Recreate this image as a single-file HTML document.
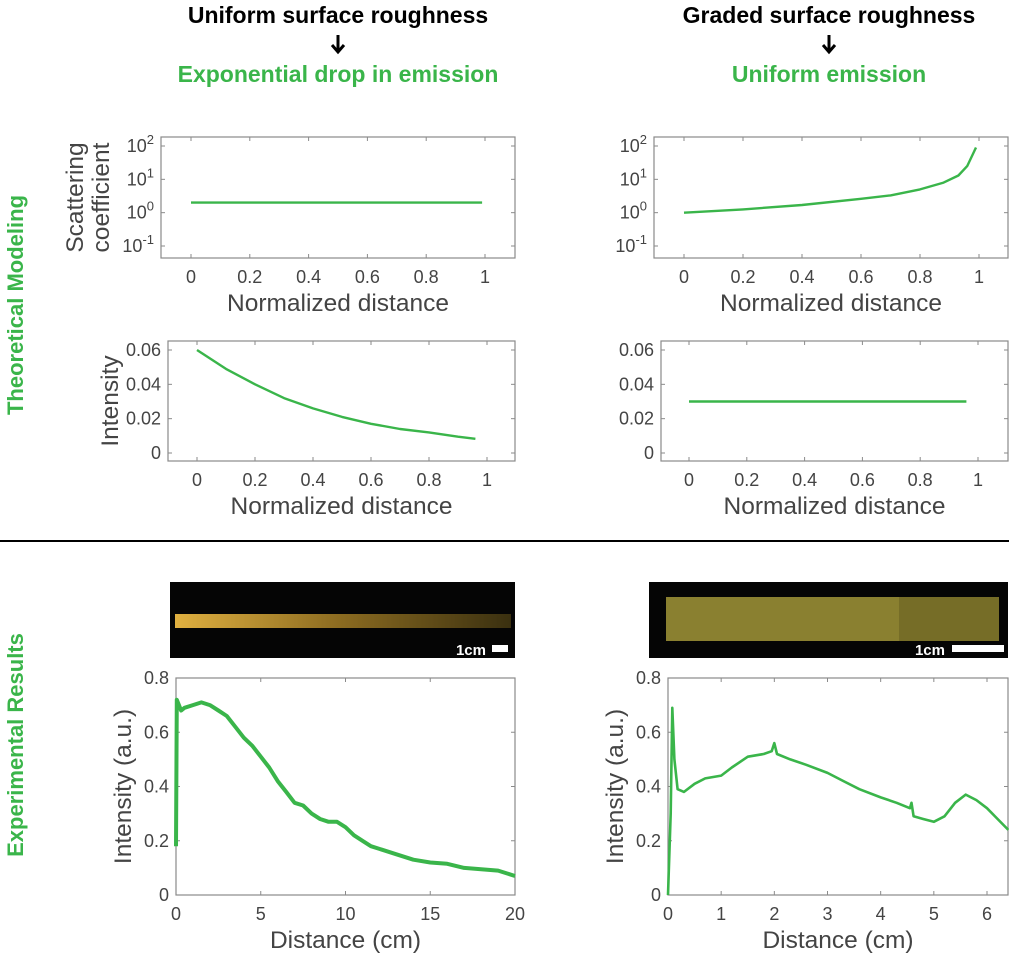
<!DOCTYPE html>
<html><head><meta charset="utf-8"><style>
html,body{margin:0;padding:0;background:#fff;}
body{width:1009px;height:959px;overflow:hidden;position:relative;font-family:"Liberation Sans",sans-serif;}
</style></head><body>
<svg id="fig" width="1009" height="959" xmlns="http://www.w3.org/2000/svg" font-family="Liberation Sans, sans-serif">
<g text-anchor="middle" font-weight="bold" font-size="23">
<text x="338" y="23" fill="#000">Uniform surface roughness</text>
<text x="338" y="82" fill="#3ab54a">Exponential drop in emission</text>
</g>
<path d="M338,35 V51 M332,45 L338,52 L344,45" stroke="#000" stroke-width="3" fill="none"/>
<g text-anchor="middle" font-weight="bold" font-size="23">
<text x="829" y="23" fill="#000">Graded surface roughness</text>
<text x="829" y="82" fill="#3ab54a">Uniform emission</text>
</g>
<path d="M829,35 V51 M823,45 L829,52 L835,45" stroke="#000" stroke-width="3" fill="none"/>
<text transform="translate(23,305) rotate(-90)" text-anchor="middle" font-weight="bold" font-size="22" fill="#3ab54a">Theoretical Modeling</text>
<text transform="translate(23,745) rotate(-90)" text-anchor="middle" font-weight="bold" font-size="22" fill="#3ab54a">Experimental Results</text>
<line x1="0" y1="541" x2="1009" y2="541" stroke="#000" stroke-width="2"/>
<defs>
<linearGradient id="gL" x1="0" x2="1"><stop offset="0" stop-color="#e0b040"/><stop offset="0.5" stop-color="#8a6a20"/><stop offset="1" stop-color="#3a3010"/></linearGradient>
</defs>
<g>
<rect x="170" y="582" width="345" height="76" fill="#050505"/>
<rect x="175" y="614" width="336" height="14" fill="url(#gL)"/>
<text x="486" y="655" fill="#fff" font-weight="bold" font-size="15" text-anchor="end">1cm</text>
<rect x="492" y="645" width="16" height="7" fill="#fff"/>
</g>
<g>
<rect x="649" y="582" width="359" height="76" fill="#050505"/>
<rect x="666" y="597" width="333" height="44" fill="#8a8030"/>
<rect x="899" y="597" width="100" height="44" fill="#6e6524" opacity="0.7"/>
<text x="945" y="655" fill="#fff" font-weight="bold" font-size="15" text-anchor="end">1cm</text>
<rect x="952" y="645" width="52" height="7" fill="#fff"/>
</g>
</svg>
<script>
// ---- data ----
const tlX = [0, 0.99];
const tlY = [2, 2];
const trX = [0, 0.2, 0.4, 0.6, 0.7, 0.8, 0.88, 0.93, 0.96, 0.99];
const trY = [1, 1.25, 1.7, 2.6, 3.3, 5, 8, 13, 25, 90];
const blX = [0, 0.1, 0.2, 0.3, 0.4, 0.5, 0.6, 0.7, 0.8, 0.9, 0.96];
const blY = [0.06, 0.049, 0.040, 0.032, 0.026, 0.021, 0.017, 0.014, 0.012, 0.0095, 0.0083];
const brX = [0, 0.96];
const brY = [0.03, 0.03];
const elX = [0, 0.05, 0.3, 0.5, 1, 1.5, 2, 2.5, 3, 3.5, 4, 4.5, 5, 5.5, 6, 6.5, 7, 7.5, 8, 8.5, 9, 9.5, 10, 10.5, 11, 11.5, 12, 13, 14, 15, 16, 17, 18, 19, 20];
const elY = [0.18, 0.72, 0.68, 0.69, 0.70, 0.71, 0.70, 0.68, 0.66, 0.62, 0.58, 0.55, 0.51, 0.47, 0.42, 0.38, 0.34, 0.33, 0.30, 0.28, 0.27, 0.27, 0.25, 0.22, 0.20, 0.18, 0.17, 0.15, 0.13, 0.12, 0.115, 0.10, 0.095, 0.09, 0.07];
const erX = [0, 0.05, 0.08, 0.12, 0.18, 0.3, 0.5, 0.7, 1, 1.2, 1.5, 1.8, 1.95, 2, 2.05, 2.3, 2.6, 3, 3.3, 3.6, 4, 4.3, 4.55, 4.58, 4.62, 4.8, 5, 5.2, 5.4, 5.6, 5.8, 6, 6.2, 6.4];
const erY = [0, 0.3, 0.69, 0.5, 0.39, 0.38, 0.41, 0.43, 0.44, 0.47, 0.51, 0.52, 0.53, 0.56, 0.52, 0.50, 0.48, 0.45, 0.42, 0.39, 0.36, 0.34, 0.32, 0.34, 0.29, 0.28, 0.27, 0.29, 0.34, 0.37, 0.35, 0.32, 0.28, 0.24];
const normTicks = [0, 0.2, 0.4, 0.6, 0.8, 1];
const normTickLabels = ["0", "0.2", "0.4", "0.6", "0.8", "1"];
const logTicks = [2, 1, 0, -1];
const intTicks = [0, 0.02, 0.04, 0.06];
const intTickLabels = ["0", "0.02", "0.04", "0.06"];
const expYTicks = [0, 0.2, 0.4, 0.6, 0.8];
const expYTickLabels = ["0", "0.2", "0.4", "0.6", "0.8"];
const elXTicks = [0, 5, 10, 15, 20];
const erXTicks = [0, 1, 2, 3, 4, 5, 6];

const NS = "http://www.w3.org/2000/svg";
const svg = document.getElementById("fig");
function mk(tag, attrs, parent) {
  const e = document.createElementNS(NS, tag);
  for (const k in attrs) e.setAttribute(k, attrs[k]);
  (parent || svg).appendChild(e);
  return e;
}
function chart(o) {
  const g = mk("g", {});
  
  
  const sx = v => o.x0 + (v - o.xmin) / (o.xmax - o.xmin) * (o.x1 - o.x0);
  const fy = o.log ? (v => Math.log10(v)) : (v => v);
  const sy = v => o.y0 + (o.ymax - fy(v)) / (o.ymax - o.ymin) * (o.y1 - o.y0);
  const syRaw = v => o.y0 + (o.ymax - v) / (o.ymax - o.ymin) * (o.y1 - o.y0);
  const box = mk("rect", {x: o.bx0, y: o.by0, width: o.bx1 - o.bx0, height: o.by1 - o.by0, fill: "none", stroke: "#8a8a8a", "stroke-width": 1.2}, g);
  
  
  o.xt.forEach((t, i) => {
    const x = sx(t);
    mk("line", {x1: x, x2: x, y1: o.by1, y2: o.by1 - 4, stroke: "#8a8a8a"}, g);
    mk("line", {x1: x, x2: x, y1: o.by0, y2: o.by0 + 4, stroke: "#8a8a8a"}, g);
    const tx = mk("text", {x: x, y: o.by1 + 25, "text-anchor": "middle", "font-size": 18, fill: "#444"}, g);
    tx.textContent = o.xtl[i];
    
    
  });
  o.yt.forEach((t, i) => {
    const y = syRaw(t);
    mk("line", {x1: o.bx0, x2: o.bx0 + 4, y1: y, y2: y, stroke: "#8a8a8a"}, g);
    mk("line", {x1: o.bx1, x2: o.bx1 - 4, y1: y, y2: y, stroke: "#8a8a8a"}, g);
    const tx = mk("text", {x: o.bx0 - 7, y: y + 6, "text-anchor": "end", "font-size": 18, fill: "#444"}, g);
    
    
    if (o.log) {
      tx.textContent = "10";
      const s = mk("tspan", {dy: -8, "font-size": 13}, tx);
      s.textContent = String(t);
    } else tx.textContent = o.ytl[i];
  });
  const xl = mk("text", {x: (o.bx0 + o.bx1) / 2, y: o.by1 + 53, "text-anchor": "middle", "font-size": 24.5, fill: "#444"}, g);
  xl.textContent = o.xlabel;
  
  
  o.ylabel.forEach((lab, i) => {
    const yl = mk("text", {transform: `translate(${o.ylx + i * 26},${(o.by0 + o.by1) / 2}) rotate(-90)`, "text-anchor": "middle", "font-size": 24.5, fill: "#444"}, g);
    yl.textContent = lab;
    
    
  });
  const d = o.X.map((v, i) => (i ? "L" : "M") + sx(v).toFixed(1) + "," + sy(o.Y[i]).toFixed(1)).join(" ");
  const p = mk("path", {d: d, fill: "none", stroke: "#3ab54a", "stroke-width": o.sw || 2.4, "stroke-linejoin": "round"}, g);
  
  
}
chart({name: "scattering-uniform-chart", bx0: 161, bx1: 515, by0: 137, by1: 258, x0: 191, x1: 485, xmin: 0, xmax: 1, y0: 146, y1: 246, ymin: -1, ymax: 2, log: true,
  xt: normTicks, xtl: normTickLabels, yt: logTicks, xlabel: "Normalized distance", ylabel: ["Scattering", "coefficient"], ylx: 83, X: tlX, Y: tlY});
chart({name: "scattering-graded-chart", bx0: 654, bx1: 1008, by0: 137, by1: 258, x0: 684, x1: 979, xmin: 0, xmax: 1, y0: 146, y1: 246, ymin: -1, ymax: 2, log: true,
  xt: normTicks, xtl: normTickLabels, yt: logTicks, xlabel: "Normalized distance", ylabel: [], ylx: 0, X: trX, Y: trY});
chart({name: "intensity-uniform-chart", bx0: 168, bx1: 515, by0: 341, by1: 461, x0: 197, x1: 487, xmin: 0, xmax: 1, y0: 350, y1: 453, ymin: 0, ymax: 0.06,
  xt: normTicks, xtl: normTickLabels, yt: intTicks, ytl: intTickLabels, xlabel: "Normalized distance", ylabel: ["Intensity"], ylx: 118, X: blX, Y: blY});
chart({name: "intensity-graded-chart", bx0: 661, bx1: 1008, by0: 341, by1: 461, x0: 689, x1: 978, xmin: 0, xmax: 1, y0: 350, y1: 453, ymin: 0, ymax: 0.06,
  xt: normTicks, xtl: normTickLabels, yt: intTicks, ytl: intTickLabels, xlabel: "Normalized distance", ylabel: [], ylx: 0, X: brX, Y: brY});
chart({name: "experimental-uniform-chart", bx0: 176, bx1: 515, by0: 678, by1: 895, x0: 176, x1: 515, xmin: 0, xmax: 20, y0: 678, y1: 895, ymin: 0, ymax: 0.8,
  xt: elXTicks, xtl: elXTicks.map(String), yt: expYTicks, ytl: expYTickLabels, xlabel: "Distance (cm)", ylabel: ["Intensity (a.u.)"], ylx: 131, X: elX, Y: elY, sw: 4});
chart({name: "experimental-graded-chart", bx0: 668, bx1: 1008, by0: 678, by1: 895, x0: 668, x1: 987, xmin: 0, xmax: 6, y0: 678, y1: 895, ymin: 0, ymax: 0.8,
  xt: erXTicks, xtl: erXTicks.map(String), yt: expYTicks, ytl: expYTickLabels, xlabel: "Distance (cm)", ylabel: ["Intensity (a.u.)"], ylx: 623, X: erX, Y: erY, sw: 2.6});
</script>
</body></html>
